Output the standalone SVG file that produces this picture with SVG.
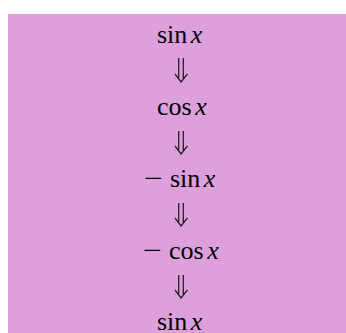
<svg xmlns="http://www.w3.org/2000/svg" width="346" height="333" viewBox="0 0 346 333">
<style>
.t{font-family:"Liberation Serif","Times New Roman",serif;font-size:26px;fill:#000}
.v{font-style:italic}
.arr{fill:none;stroke:#222;stroke-width:1.3}
</style>
<rect x="0" y="0" width="346" height="333" fill="#ffffff"/>
<rect x="8" y="14" width="338" height="319" fill="#DDA0DD"/>
<g id="n1"><text class="t" x="157" y="42.5">sin<tspan class="v" dx="3.5">x</tspan></text></g>
<g id="n2"><text class="t" x="157" y="114.5">cos<tspan class="v" dx="3.5">x</tspan></text></g>
<g id="n3"><text class="t" x="144" y="186.5"><tspan textLength="19" lengthAdjust="spacingAndGlyphs">−</tspan><tspan x="170">sin</tspan><tspan class="v" dx="3.5">x</tspan></text></g>
<g id="n4"><text class="t" x="143" y="258.5"><tspan textLength="19" lengthAdjust="spacingAndGlyphs">−</tspan><tspan x="169">cos</tspan><tspan class="v" dx="3.5">x</tspan></text></g>
<g id="n5"><text class="t" x="157" y="329.5">sin<tspan class="v" dx="3.5">x</tspan></text></g>
<g id="connectors">
<path class="arr" d="M178.7 58V79M183.3 58V79M175 74L181 82L187.5 74"/>
<path class="arr" d="M178.7 131V151M183.3 131V151M175 146L181 154L187.5 146"/>
<path class="arr" d="M178.7 203V223M183.3 203V223M175 218L181 226L187.5 218"/>
<path class="arr" d="M178.7 275V295M183.3 275V295M175 290L181 298L187.5 290"/>
</g>
</svg>
